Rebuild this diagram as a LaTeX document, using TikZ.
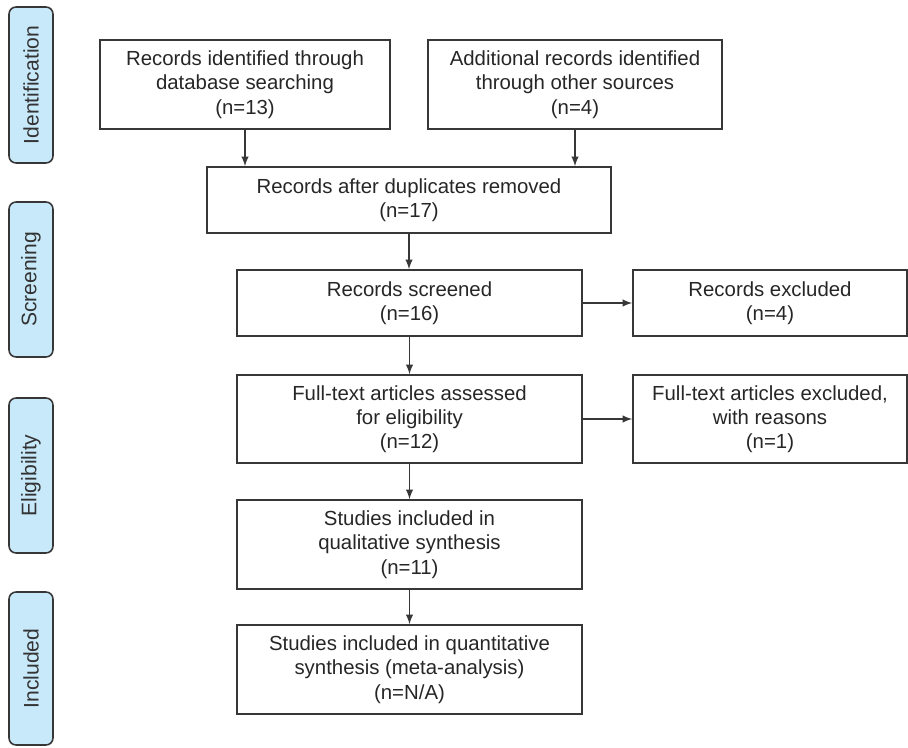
\documentclass[tikz,border=0pt]{standalone}
\usepackage{fontspec}
\setmainfont{Liberation Sans}
\usepackage{tikz}
\definecolor{stageBlue}{RGB}{200,233,250}
\definecolor{lineGrey}{RGB}{55,55,55}
\tikzset{
  flowbox/.style={draw=lineGrey, line width=0.9pt, align=center, inner sep=2pt,
    font=\fontsize{11.6}{13.8}\selectfont, text=black!85},
  stagebox/.style={draw=lineGrey, fill=stageBlue, line width=0.9pt, rounded corners=4pt,
    rotate=90, minimum height=0.88cm, inner sep=1pt,
    font=\fontsize{12}{14}\selectfont, text=black!80},
  flowarrow/.style={draw=lineGrey, line width=0.9pt, -latex}
}
\begin{document}
\begin{tikzpicture}[x=0.02cm, y=-0.02cm]
        \useasboundingbox (0,0) rectangle (908,747);

        % stage labels
        \node[stagebox, minimum width=3.12cm] (ident)  at (31, 85)    {Identification};
        \node[stagebox, minimum width=3.1cm]  (screen) at (31, 279.5) {Screening};
        \node[stagebox, minimum width=3.1cm]  (elig)   at (31, 475.5) {Eligibility};
        \node[stagebox, minimum width=3.06cm] (incl)   at (31, 668.5) {Included};

        % boxes
        \node[flowbox, minimum width=5.8cm,  minimum height=1.78cm] (recDb)    at (245, 84.5)  {Records identified through\\database searching\\(n=13)};
        \node[flowbox, minimum width=5.88cm, minimum height=1.78cm] (recOther) at (575, 84.5)  {Additional records identified\\through other sources\\(n=4)};
        \node[flowbox, minimum width=8.08cm, minimum height=1.32cm] (recDup)   at (409, 200)   {Records after duplicates removed\\(n=17)};
        \node[flowbox, minimum width=6.9cm,  minimum height=1.32cm] (recScr)   at (409.5, 303) {Records screened\\(n=16)};
        \node[flowbox, minimum width=5.48cm, minimum height=1.32cm] (recExc)   at (770, 303)   {Records excluded\\(n=4)};
        \node[flowbox, minimum width=6.9cm,  minimum height=1.76cm] (fullAss)  at (409.5, 419) {Full-text articles assessed\\for eligibility\\(n=12)};
        \node[flowbox, minimum width=5.48cm, minimum height=1.76cm] (fullExc)  at (770, 419)   {Full-text articles excluded,\\with reasons\\(n=1)};
        \node[flowbox, minimum width=6.9cm,  minimum height=1.78cm] (qual)     at (409.5, 544.5) {Studies included in\\qualitative synthesis\\(n=11)};
        \node[flowbox, minimum width=6.9cm,  minimum height=1.78cm] (quant)    at (409.5, 669.5) {Studies included in quantitative\\synthesis (meta-analysis)\\(n=N/A)};

        % arrows
        \draw[flowarrow] (recDb.south)    -- (recDb.south |- recDup.north);
        \draw[flowarrow] (recOther.south) -- (recOther.south |- recDup.north);
        \draw[flowarrow] (recDup.south)   -- (recDup.south |- recScr.north);
        \draw[flowarrow] (recScr.south)   -- (fullAss.north);
        \draw[flowarrow] (fullAss.south)  -- (qual.north);
        \draw[flowarrow] (qual.south)     -- (quant.north);
        \draw[flowarrow] (recScr.east)    -- (recExc.west);
        \draw[flowarrow] (fullAss.east)   -- (fullExc.west);
    \end{tikzpicture}
\end{document}
